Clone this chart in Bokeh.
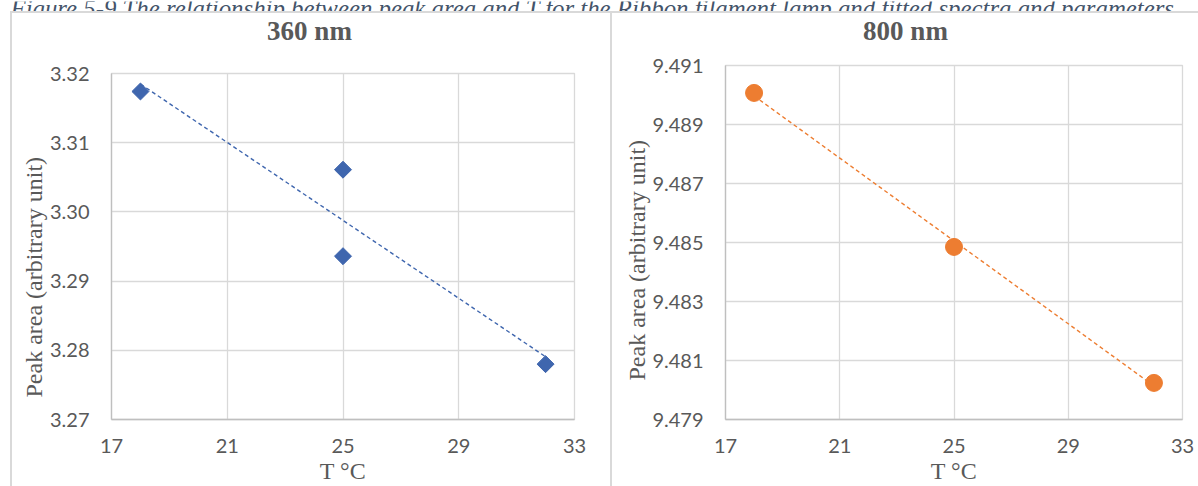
import math
import numpy as np
from bokeh.plotting import figure
from bokeh.layouts import column, row
from bokeh.models import Spacer, FixedTicker, Title, PrintfTickFormatter
from bokeh.core.properties import value
from bokeh.embed import file_html
from bokeh.resources import INLINE

caption_text = ("Figure 5-9 The relationship between peak area and T for the "
                "Ribbon filament lamp and fitted spectra and parameters.")

# 360 nm peak: temperature (°C) and peak area
temp_360 = [18, 25, 25, 32]
area_360 = [3.3174, 3.3061, 3.2936, 3.2780]

# 800 nm peak
temp_800 = [18, 25, 32]
area_800 = [9.49007, 9.48485, 9.48024]

x_ticks = [17, 21, 25, 29, 33]
y_ticks_360 = [3.27, 3.28, 3.29, 3.30, 3.31, 3.32]
y_ticks_800 = [9.479, 9.481, 9.483, 9.485, 9.487, 9.489, 9.491]

GRID = "#d9d9d9"
AXIS = "#bfbfbf"
TEXT = "#595959"
SERIF = "Liberation Serif"
SANS = "Lato"
PANEL_H = 473
HEAD_H = 40


def strip(width, height, left=0, right=0):
    """A bare figure used only to hold a line of text."""
    fw = width - left - right
    s = figure(width=width, height=height, x_range=(0, fw),
               y_range=(0, height), min_border=0,
               min_border_left=left, min_border_right=right,
               toolbar_location=None, output_backend="svg",
               x_axis_location=None, y_axis_location=None)
    s.grid.visible = False
    s.outline_line_color = None
    s.background_fill_color = "white"
    s.border_fill_color = "white"
    return s


def make_panel(title, xs, ys, yticks, fmt, color, marker, msize, angle,
               width, left, right, top, bottom, title_x,
               ylab_offset, ylab_standoff):
    # heading strip shares the chart's side borders, so x is frame-relative
    head = strip(width, HEAD_H, left, right)
    head.text(x=[title_x - left], y=[HEAD_H - 17], text=[title],
              text_font=value(SERIF), text_font_style="bold",
              text_font_size="27px", text_color=TEXT,
              text_align="center", text_baseline="middle")

    p = figure(width=width, height=PANEL_H - HEAD_H,
               x_range=(x_ticks[0], x_ticks[-1]),
               y_range=(yticks[0], yticks[-1]),
               min_border_left=left, min_border_right=right,
               min_border_top=top, min_border_bottom=bottom,
               toolbar_location=None, output_backend="svg")
    p.background_fill_color = "white"
    p.border_fill_color = "white"
    p.outline_line_color = GRID
    p.outline_line_width = 1.3

    p.xaxis.ticker = FixedTicker(ticks=x_ticks)
    p.yaxis.ticker = FixedTicker(ticks=yticks)
    p.yaxis.formatter = PrintfTickFormatter(format=fmt)
    for ax in (p.xaxis[0], p.yaxis[0]):
        ax.axis_line_color = AXIS
        ax.axis_line_width = 1.3
        ax.major_tick_line_color = None
        ax.minor_tick_line_color = None
        ax.major_tick_out = 0
        ax.major_tick_in = 0
        ax.major_label_text_font = SANS
        ax.major_label_text_font_size = "20px"
        ax.major_label_text_color = TEXT
    p.yaxis.major_label_standoff = 22
    p.xaxis.major_label_standoff = 19

    p.xaxis.axis_label = "T °C"
    p.xaxis.axis_label_text_font = SERIF
    p.xaxis.axis_label_text_font_style = "normal"
    p.xaxis.axis_label_text_font_size = "24px"
    p.xaxis.axis_label_text_color = TEXT
    p.xaxis.axis_label_standoff = 2

    p.xgrid.grid_line_color = GRID
    p.ygrid.grid_line_color = GRID
    p.xgrid.grid_line_width = 1.3
    p.ygrid.grid_line_width = 1.3

    # linear trendline
    slope, icpt = np.polyfit(xs, ys, 1)
    tx = [min(xs), max(xs)]
    p.line(tx, [slope * t + icpt for t in tx], line_color=color,
           line_width=1.4, line_dash="4 3")

    p.scatter(xs, ys, marker=marker, size=msize, angle=angle,
              fill_color=color, line_color=color)

    p.add_layout(Title(text="Peak area (arbitrary unit)", align="left",
                       offset=ylab_offset, standoff=ylab_standoff,
                       text_font=SERIF, text_font_style="normal",
                       text_font_size="24px", text_color=TEXT), "left")
    return column(head, p, spacing=0)


left_panel = make_panel("360 nm", temp_360, area_360, y_ticks_360, "%.2f",
                        "#3f66ae", "square", 12, math.pi / 4,
                        width=598, left=99, right=36, top=20, bottom=67,
                        title_x=297, ylab_offset=22, ylab_standoff=0)
right_panel = make_panel("800 nm", temp_800, area_800, y_ticks_800, "%.3f",
                         "#ed7d31", "circle", 17, 0,
                         width=586, left=113, right=16, top=12, bottom=67,
                         title_x=293, ylab_offset=39, ylab_standoff=0)

# caption strip, its upper half falls outside the page
cap = strip(1198, 11)
cap.text(x=[10], y=[4], text=[caption_text], text_font=value(SERIF),
         text_font_style="italic", text_font_size="24.8px",
         text_color="#44546a", text_baseline="alphabetic")

top_rule = Spacer(width=1188, height=2, margin=0,
                  styles={"background-color": GRID})
left_rule = Spacer(width=2, height=PANEL_H, margin=0,
                   styles={"background-color": GRID})
mid_rule = Spacer(width=2, height=PANEL_H, margin=0,
                  styles={"background-color": GRID})

layout = column(
    cap,
    row(Spacer(width=10, height=2, margin=0), top_rule, spacing=0),
    row(Spacer(width=10, height=PANEL_H, margin=0), left_rule, left_panel,
        mid_rule, right_panel, spacing=0),
    spacing=0,
)

open("out.html", "w").write(file_html(layout, INLINE))
